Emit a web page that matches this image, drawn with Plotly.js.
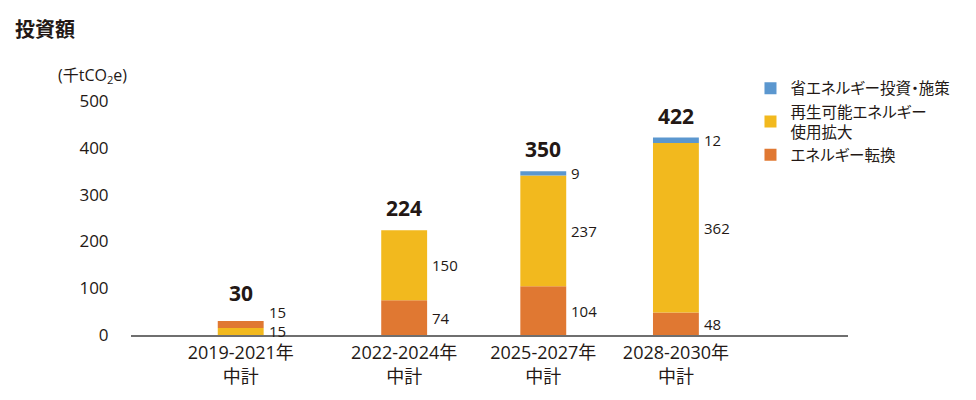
<!DOCTYPE html>
<html><head><meta charset="utf-8">
<script src="https://cdn.plot.ly/plotly-3.0.1.min.js"></script>
<style>html,body{margin:0;padding:0;background:#fff}#chart{width:976px;height:400px}
#chart .legendtext{font-feature-settings:"palt" 1;}</style>
</head><body><div id="chart"></div>
<script>
// ---- data ----
const categories = ["2019-2021年<br>中計", "2022-2024年<br>中計", "2025-2027年<br>中計", "2028-2030年<br>中計"];
const seriesNames = ["省エネルギー投資・施策", "再生可能エネルギー<br>使用拡大", "エネルギー転換"];
const saving    = [0, 0, 9, 12];       // 省エネルギー投資・施策
const renewable = [15, 150, 237, 362]; // 再生可能エネルギー使用拡大
const conversion= [15, 74, 104, 48];   // エネルギー転換
const totals    = [30, 224, 350, 422];
// stacking order (bottom→top) per category, as drawn in the source
const stackOrder = [["renewable","conversion","saving"],["conversion","renewable","saving"],["conversion","renewable","saving"],["conversion","renewable","saving"]];

// ---- layout helpers (positions/styles) ----
const xpos = [15.3, 38.1, 57.5, 76.0];
const barW = 6.4;
const colors = {saving:"#5b97cf", renewable:"#f2b91e", conversion:"#e07832"};
const vals = {saving, renewable, conversion};
const names = {saving:seriesNames[0], renewable:seriesNames[1], conversion:seriesNames[2]};
const font = "Open Sans, Noto Sans CJK JP, sans-serif";
const cjk = "Noto Sans CJK JP, sans-serif";
const txt = "#231815";

const bases = {saving:[], renewable:[], conversion:[]};
stackOrder.forEach((ord, i) => { let b = 0; ord.forEach(k => { bases[k][i] = b; b += vals[k][i]; }); });

const traces = ["conversion","renewable","saving"].map(k => ({
  type:"bar", x:xpos, y:vals[k], base:bases[k], width:barW, name:names[k],
  marker:{color:colors[k], line:{width:0}}, hoverinfo:"skip"
}));

const annotations = [];
// segment labels
["conversion","renewable","saving"].forEach(k => {
  vals[k].forEach((v, i) => {
    if (!v) return;
    let ys = 0;
    if (i === 0) ys = (k === "conversion") ? 12 : 0;
    annotations.push({x:xpos[i] + barW/2, y:bases[k][i] + v/2, text:String(v), showarrow:false,
      xanchor:"left", yanchor:"middle", xshift:3, yshift:ys, font:{family:font, size:15, color:txt}});
  });
});
// totals
totals.forEach((t, i) => annotations.push({x:xpos[i], y:t, text:"<b>"+t+"</b>", showarrow:false,
  xanchor:"center", yanchor:"bottom", yshift:(i === 0 ? 12 : 6), font:{family:font, size:21, color:txt}}));
// title and unit
annotations.push({xref:"paper", yref:"paper", x:-0.164, y:1.31, xanchor:"left", yanchor:"middle",
  text:"<b>投資額</b>", showarrow:false, font:{family:cjk, size:20, color:txt}});
annotations.push({xref:"paper", yref:"paper", x:-0.054, y:1.11, xanchor:"center", yanchor:"middle",
  text:"(千tCO<sub>2</sub>e)", showarrow:false, font:{family:font, size:16, color:txt}});

const layout = {
  width:976, height:400, paper_bgcolor:"#fff", plot_bgcolor:"#fff",
  margin:{l:131, r:128, t:101, b:65, autoexpand:false},
  barmode:"overlay", showlegend:true,
  font:{family:font, color:txt, size:16},
  xaxis:{range:[0,100], tickvals:xpos, ticktext:categories, showgrid:false, zeroline:false,
    showline:true, linecolor:"#6f6f6f", linewidth:1.5, ticks:"outside", ticklen:1, tickcolor:"rgba(0,0,0,0)",
    tickfont:{family:font, size:18, color:txt}, fixedrange:true},
  yaxis:{range:[0,500], tickvals:[0,100,200,300,400,500], showgrid:false, zeroline:false, showline:false,
    ticks:"outside", ticklen:18, tickcolor:"rgba(0,0,0,0)", tickfont:{family:font, size:17, color:txt}, fixedrange:true},
  legend:{x:0.864, y:1.125, xanchor:"left", yanchor:"top", traceorder:"reversed",
    font:{family:cjk, size:15.5, color:txt}, bgcolor:"rgba(0,0,0,0)", itemwidth:30, tracegroupgap:0},
  annotations
};
Plotly.newPlot("chart", traces, layout, {staticPlot:true, displayModeBar:false});
</script></body></html>
